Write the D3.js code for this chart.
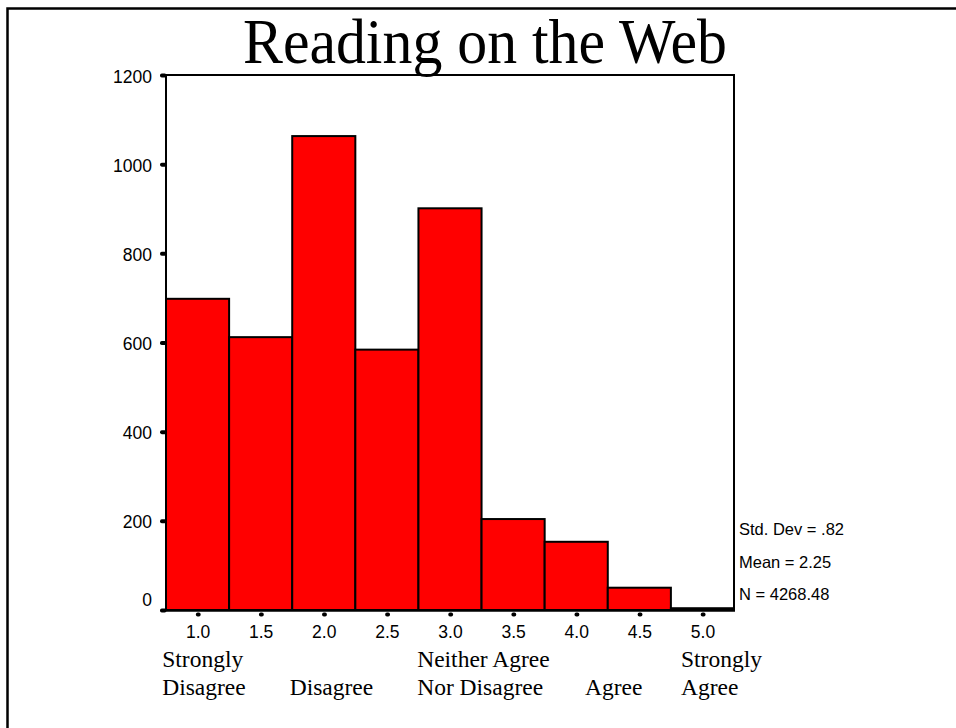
<!DOCTYPE html>
<html>
<head>
<meta charset="utf-8">
<script src="https://cdn.jsdelivr.net/npm/d3@7/dist/d3.min.js"></script>
<style>
  html, body { margin: 0; padding: 0; background: #fff; }
  svg { display: block; }
</style>
</head>
<body>
<svg id="chart" width="956" height="728"></svg>
<script>
// Histogram bins (midpoints) and counts
const binMids = [1.0, 1.5, 2.0, 2.5, 3.0, 3.5, 4.0, 4.5, 5.0];
const counts = [698, 612, 1063, 584, 901, 204, 153, 50, 4];
const binWidth = 0.5;

// Axis ticks
const xTicks = [1.0, 1.5, 2.0, 2.5, 3.0, 3.5, 4.0, 4.5, 5.0];
const yTicks = [0, 200, 400, 600, 800, 1000, 1200];

// Response-scale labels: anchor value on the x scale and text lines
const scaleLabelAt = [0.72, 1.73, 2.74, 4.07, 4.83];
const scaleLabelLines = [
  ["Strongly", "Disagree"],
  ["", "Disagree"],
  ["Neither Agree", "Nor Disagree"],
  ["", "Agree"],
  ["Strongly", "Agree"]
];

// Summary statistics
const stats = ["Std. Dev = .82", "Mean = 2.25", "N = 4268.48"];
const title = "Reading on the Web";

const svg = d3.select("#chart");
const plot = { left: 166, right: 734, top: 75, bottom: 610 };

const x = d3.scaleLinear().domain([0.75, 5.25]).range([plot.left, plot.right]);
const y = d3.scaleLinear().domain([0, 1200]).range([plot.bottom, plot.top]);

// Outer frame
svg.append("rect")
  .attr("x", 7.5).attr("y", 8.5)
  .attr("width", 1200).attr("height", 1200)
  .attr("fill", "none").attr("stroke", "#000").attr("stroke-width", 2.5);

// Title
svg.append("text")
  .attr("x", 243).attr("y", 63)
  .attr("textLength", 484)
  .attr("lengthAdjust", "spacingAndGlyphs")
  .attr("font-family", "'Liberation Serif', 'Times New Roman', serif")
  .attr("font-size", 64)
  .attr("fill", "#000")
  .text(title);

// Bars
svg.append("g").selectAll("rect")
  .data(binMids)
  .join("rect")
  .attr("x", (d) => x(d - binWidth / 2))
  .attr("width", (d) => x(d + binWidth / 2) - x(d - binWidth / 2))
  .attr("y", (d, i) => y(counts[i]))
  .attr("height", (d, i) => y(0) - y(counts[i]))
  .attr("fill", "#ff0000")
  .attr("stroke", "#000")
  .attr("stroke-width", 2);

// Plot box
svg.append("rect")
  .attr("x", plot.left).attr("y", plot.top)
  .attr("width", plot.right - plot.left)
  .attr("height", plot.bottom - plot.top)
  .attr("fill", "none").attr("stroke", "#000").attr("stroke-width", 2);
svg.append("line")
  .attr("x1", plot.left - 1).attr("x2", plot.right + 1)
  .attr("y1", plot.bottom + 0.5).attr("y2", plot.bottom + 0.5)
  .attr("stroke", "#000").attr("stroke-width", 2.5);

// Y axis: short tick marks and labels
const yAxis = d3.axisLeft(y).tickValues(yTicks).tickSize(0).tickPadding(14).tickFormat(d3.format("d"));
const gy = svg.append("g").attr("transform", `translate(${plot.left},0)`).call(yAxis);
gy.select(".domain").remove();
gy.selectAll(".tick text")
  .attr("font-family", "'Liberation Sans', Arial, sans-serif")
  .attr("font-size", 17.5)
  .attr("fill", "#000")
  .attr("dy", (d) => d === 0 ? "-0.28em" : "0.4em");
gy.selectAll(".tick").append("rect")
  .attr("x", -6).attr("y", -2).attr("width", 6.5).attr("height", 4)
  .attr("rx", 1.8).attr("fill", "#000");

// X axis: dot ticks and labels
const xAxis = d3.axisBottom(x).tickValues(xTicks).tickSize(0).tickPadding(16).tickFormat(d3.format(".1f"));
const gx = svg.append("g").attr("transform", `translate(0,${plot.bottom})`).call(xAxis);
gx.select(".domain").remove();
gx.selectAll(".tick text")
  .attr("font-family", "'Liberation Sans', Arial, sans-serif")
  .attr("font-size", 17.5)
  .attr("fill", "#000");
gx.selectAll(".tick").append("rect")
  .attr("x", -2.2).attr("y", 2.5).attr("width", 4.8).attr("height", 4)
  .attr("rx", 1.8).attr("fill", "#000");

// Response-scale labels
const labelG = svg.append("g")
  .attr("font-family", "'Liberation Serif', 'Times New Roman', serif")
  .attr("font-size", 23.5)
  .attr("fill", "#000");
scaleLabelAt.forEach((v, i) => {
  scaleLabelLines[i].forEach((line, j) => {
    if (!line) return;
    labelG.append("text")
      .attr("x", x(v)).attr("y", 667 + j * 28)
      .text(line);
  });
});

// Summary statistics to the right of the plot
svg.append("g")
  .attr("font-family", "'Liberation Sans', Arial, sans-serif")
  .attr("font-size", 16.5)
  .attr("fill", "#000")
  .selectAll("text")
  .data(stats)
  .join("text")
  .attr("x", plot.right + 5)
  .attr("y", (d, i) => 535 + i * 32.5)
  .text((d) => d);
</script>
</body>
</html>
